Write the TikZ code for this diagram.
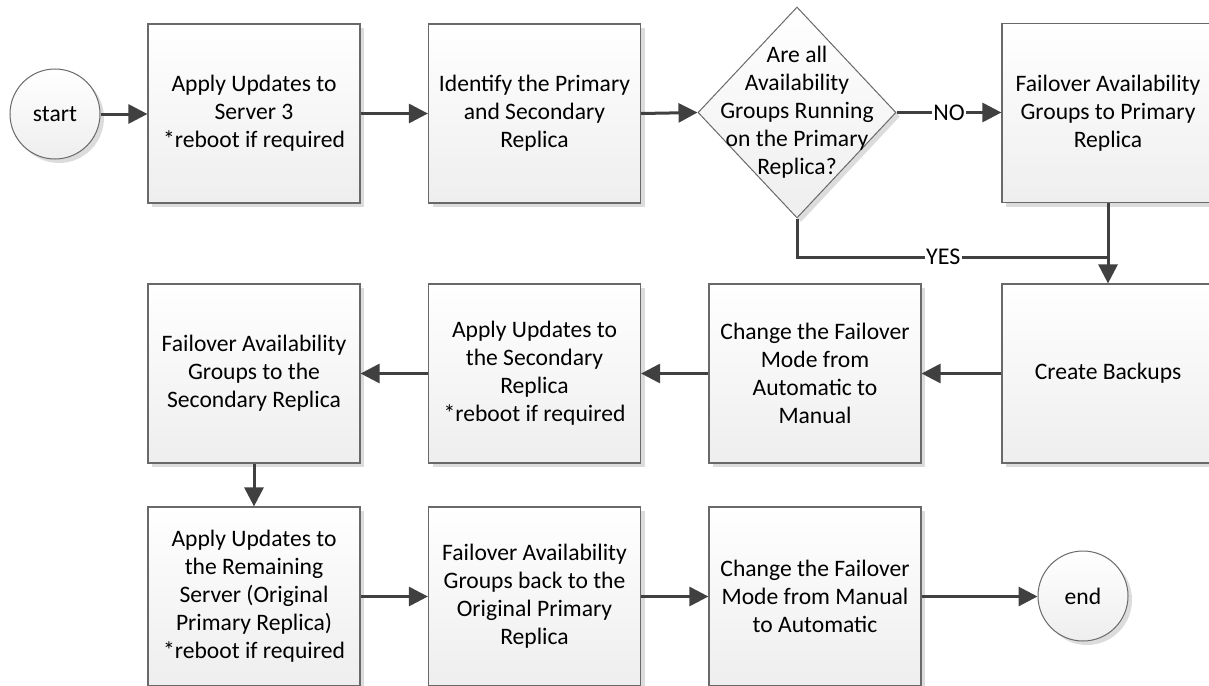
\documentclass[tikz,border=0pt]{standalone}
\usepackage{fontspec}
\setmainfont{Carlito}
\usetikzlibrary{shapes.geometric,arrows.meta,shadows}
\definecolor{linec}{RGB}{64,64,64}
\definecolor{edgec}{RGB}{105,105,105}
\definecolor{shadec}{RGB}{238,238,238}
\definecolor{shadowc}{RGB}{220,220,220}
\tikzset{
  txt/.style={font=\fontsize{23.6}{28}\selectfont},
  stepbox/.style={rectangle, draw=edgec, line width=1.2pt, top color=white, bottom color=shadec,
    minimum width=212pt, minimum height=179pt, align=center, inner sep=0pt, txt,
    drop shadow={shadow xshift=4pt, shadow yshift=-4pt, fill=shadowc, opacity=1}},
  term/.style={circle, draw=edgec, line width=1pt, top color=white, bottom color=shadec,
    minimum size=90pt, inner sep=0pt, txt,
    drop shadow={shadow xshift=4pt, shadow yshift=-4pt, fill=shadowc, opacity=1}},
  decision/.style={diamond, draw=edgec, line width=1pt, top color=white, bottom color=shadec,
    minimum width=198pt, minimum height=211pt, inner sep=0pt,
    drop shadow={shadow xshift=4pt, shadow yshift=-4pt, fill=shadowc, opacity=1}},
  conn/.style={draw=linec, line width=3pt},
  arr/.style={conn, -{Triangle[length=19pt,width=19pt]}},
  lab/.style={fill=white, inner sep=1.5pt, font=\fontsize{24}{26}\selectfont, text=black}
}
\begin{document}
\begin{tikzpicture}[x=1pt,y=-1pt]
\useasboundingbox (0,0) rectangle (1209,685);
% row 1
\node[term] (start) at (55,114) {start};
\node[stepbox] (b1) at (254,113.5) {Apply Updates to\\Server 3\\*reboot if required};
\node[stepbox] (b2) at (534.5,113.5) {Identify the Primary\\and Secondary\\Replica};
\node[decision, label={[txt, align=center]center:{Are all\\Availability\\Groups Running\\on the Primary\\Replica?}}] (dia) at (797,112.5) {};
\node[stepbox] (b3) at (1108,113) {Failover Availability\\Groups to Primary\\Replica};
% row 2
\node[stepbox] (c1) at (1108,373.5) {Create Backups};
\node[stepbox] (c2) at (815,373.5) {Change the Failover\\Mode from\\Automatic to\\Manual};
\node[stepbox] (c3) at (534.5,373.5) {Apply Updates to\\the Secondary\\Replica\\*reboot if required};
\node[stepbox] (c4) at (254,373.5) {Failover Availability\\Groups to the\\Secondary Replica};
% row 3
\node[stepbox] (d1) at (254,596.5) {Apply Updates to\\the Remaining\\Server (Original\\Primary Replica)\\*reboot if required};
\node[stepbox] (d2) at (534.5,596.5) {Failover Availability\\Groups back to the\\Original Primary\\Replica};
\node[stepbox] (d3) at (815,596.5) {Change the Failover\\Mode from Manual\\to Automatic};
\node[term] (endc) at (1083,596) {end};
% connectors
\draw[arr] (start.east) -- (b1.west |- start.east);
\draw[arr] (b1.east) -- (b2.west);
\draw[arr] (b2.east) -- (dia.west);
\draw[arr] (dia.east) -- node[lab]{NO} (b3.west |- dia.east);
\path (b3.south) ++(0,54) coordinate (join);
\draw[conn] (dia.south) |- node[lab, pos=0.735]{YES} (join);
\draw[arr] (b3.south) -- (c1.north);
\draw[arr] (c1.west) -- (c2.east);
\draw[arr] (c2.west) -- (c3.east);
\draw[arr] (c3.west) -- (c4.east);
\draw[arr] (c4.south) -- (d1.north);
\draw[arr] (d1.east) -- (d2.west);
\draw[arr] (d2.east) -- (d3.west);
\draw[arr] (d3.east) -- (endc.west |- d3.east);
\end{tikzpicture}
\end{document}
